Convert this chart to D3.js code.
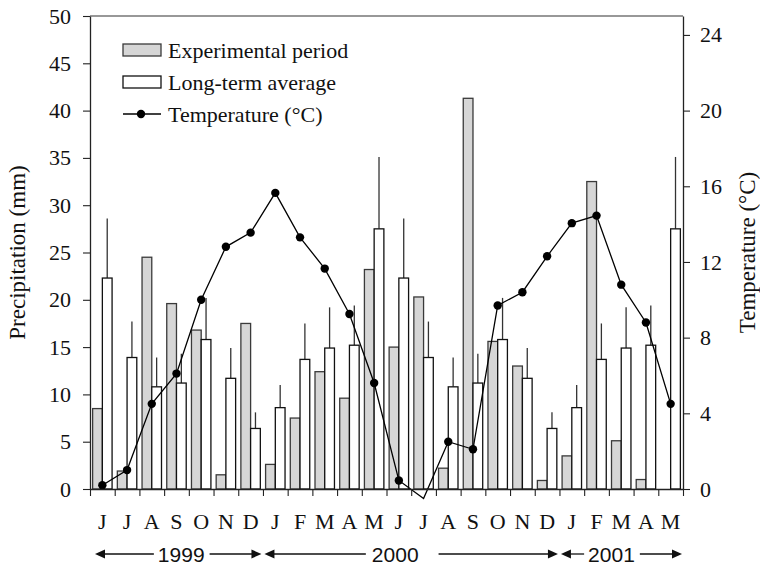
<!DOCTYPE html>
<html>
<head>
<meta charset="utf-8">
<script src="https://cdn.jsdelivr.net/npm/d3@7"></script>
<style>
  html, body { margin: 0; padding: 0; background: #fff; }
  svg { display: block; }
  .serif { font-family: "Liberation Serif", "Times New Roman", Times, "DejaVu Serif", serif; }
  .sans { font-family: "Liberation Sans", Arial, Helvetica, sans-serif; }
</style>
</head>
<body>
<svg id="chart" width="760" height="570"></svg>
<script>
// ---------------- DATA ----------------
const months = ["J","J","A","S","O","N","D","J","F","M","A","M","J","J","A","S","O","N","D","J","F","M","A","M"];
const experimental = [8.5, 1.9, 24.5, 19.6, 16.8, 1.5, 17.5, 2.6, 7.5, 12.4, 9.6, 23.2, 15.0, 20.3, 2.2, 41.3, 15.6, 13.0, 0.9, 3.5, 0, 32.5, 5.1, 1.0];
const longTermAvg = [22.3, 13.9, 10.8, 11.2, 15.8, 11.7, 6.4, 8.6, 13.7, 14.9, 15.2, 27.5, 22.3, 13.9, 10.8, 11.2, 15.8, 11.7, 6.4, 8.6, 13.7, 14.9, 15.2, 27.5];
const longTermErr = [28.6, 17.7, 13.9, 14.3, 20.2, 14.9, 8.1, 11.0, 17.5, 19.2, 19.4, 35.1, 28.6, 17.7, 13.9, 14.3, 20.2, 14.9, 8.1, 11.0, 17.5, 19.2, 19.4, 35.1];
const temperature = [0.2, 1.0, 4.5, 6.1, 10.0, 12.8, 13.55, 15.65, 13.3, 11.65, 9.25, 5.6, 0.45, -0.5, 2.5, 2.1, 9.7, 10.4, 12.3, 14.05, 14.45, 10.8, 8.8, 4.5];
const years = ["1999", "2000", "2001"];
const yearStart = [0, 7, 19];
const yearEnd = [7, 19, 24];
const precipTicks = [0, 5, 10, 15, 20, 25, 30, 35, 40, 45, 50];
const tempTicks = [0, 4, 8, 12, 16, 20, 24];
const legendLabels = ["Experimental period", "Long-term average", "Temperature (\u00B0C)"];

// ---------------- LAYOUT ----------------
const W = 760, H = 570;
const m = { left: 90, right: 77, top: 16, bottom: 81 };
const iw = W - m.left - m.right, ih = H - m.top - m.bottom;
const grayFill = "#d6d6d6";

const svg = d3.select("#chart");
const g = svg.append("g").attr("transform", `translate(${m.left},${m.top})`);

const x = d3.scaleBand().domain(d3.range(months.length)).range([0, iw]).paddingInner(0).paddingOuter(0);
const xSub = d3.scaleBand().domain(["exp", "avg"]).range([0, x.bandwidth()]).paddingInner(0).paddingOuter(0.27);
const xLin = d3.scaleLinear().domain([0, months.length]).range([0, iw]);
const yP = d3.scaleLinear().domain([0, 50]).range([ih, 0]);
const yT = d3.scaleLinear().domain([0, 25]).range([ih, 0]);

// top frame line
g.append("line").attr("x1", 0).attr("x2", iw).attr("y1", 0).attr("y2", 0)
  .attr("stroke", "#333").attr("stroke-width", 1.2);

// error bars
g.append("g").selectAll("line").data(longTermAvg).join("line")
  .attr("x1", (d, i) => x(i) + xSub("avg") + xSub.bandwidth() / 2)
  .attr("x2", (d, i) => x(i) + xSub("avg") + xSub.bandwidth() / 2)
  .attr("y1", d => yP(d))
  .attr("y2", (d, i) => yP(longTermErr[i]))
  .attr("stroke", "#333").attr("stroke-width", 1.3);

// experimental bars
g.append("g").selectAll("rect").data(experimental).join("rect")
  .filter(d => d > 0)
  .attr("x", (d, i) => x(i) + xSub("exp"))
  .attr("y", d => yP(d))
  .attr("width", xSub.bandwidth())
  .attr("height", d => yP(0) - yP(d))
  .attr("fill", grayFill).attr("stroke", "#3a3a3a").attr("stroke-width", 1.3);

// long-term average bars
g.append("g").selectAll("rect").data(longTermAvg).join("rect")
  .attr("x", (d, i) => x(i) + xSub("avg"))
  .attr("y", d => yP(d))
  .attr("width", xSub.bandwidth())
  .attr("height", d => yP(0) - yP(d))
  .attr("fill", "#fff").attr("stroke", "#111").attr("stroke-width", 1.3);

// temperature line
const line = d3.line().x((d, i) => x(i) + x.bandwidth() / 2).y(d => yT(d));
g.append("path").datum(temperature).attr("d", line)
  .attr("fill", "none").attr("stroke", "#000").attr("stroke-width", 1.3);
g.append("g").selectAll("circle").data(temperature.map((v, i) => ({ v, i })).filter(d => d.v >= 0)).join("circle")
  .attr("cx", d => x(d.i) + x.bandwidth() / 2)
  .attr("cy", d => yT(d.v))
  .attr("r", 4.2).attr("fill", "#000");

// axes
function styleAxis(sel) {
  sel.attr("font-family", null).attr("font-size", null);
  sel.select(".domain").attr("stroke", "#222").attr("stroke-width", 1.3);
  sel.selectAll(".tick line").attr("stroke", "#222").attr("stroke-width", 1.1);
  sel.selectAll("text").attr("class", "serif").style("font-size", "22px").attr("fill", "#111");
}
g.append("g").call(d3.axisLeft(yP).tickValues(precipTicks).tickSize(7).tickPadding(12).tickSizeOuter(0)).call(styleAxis);
g.append("g").attr("transform", `translate(${iw},0)`)
  .call(d3.axisRight(yT).tickValues(tempTicks).tickSize(7).tickPadding(10).tickSizeOuter(0)).call(styleAxis);
g.append("g").attr("transform", `translate(0,${ih})`)
  .call(d3.axisBottom(xLin).tickValues(d3.range(months.length + 1)).tickSize(7).tickFormat("").tickSizeOuter(0)).call(styleAxis);
const mAx = g.append("g").attr("transform", `translate(0,${ih})`)
  .call(d3.axisBottom(x).tickSize(0).tickFormat(i => months[i]));
mAx.attr("font-family", null).attr("font-size", null);
mAx.select(".domain").remove();
mAx.selectAll("text").attr("class", "serif").style("font-size", "22px").attr("fill", "#111")
  .attr("y", 40).attr("dy", 0);

// axis titles
svg.append("text").attr("class", "serif").attr("transform", `translate(25,${m.top + ih / 2}) rotate(-90)`)
  .attr("text-anchor", "middle").style("font-size", "23px").attr("fill", "#111")
  .text("Precipitation (mm)");
svg.append("text").attr("class", "serif").attr("transform", `translate(755,${m.top + ih / 2}) rotate(-90)`)
  .attr("text-anchor", "middle").style("font-size", "23px").attr("fill", "#111")
  .text("Temperature (\u00B0C)");

// year arrows
const yrY = ih + 65;
const yrShift = [3, -16, -10];
const yrG = g.append("g");
years.forEach((yr, k) => {
  const x0 = xLin(yearStart[k]) + (k === 0 ? 5 : 1.5);
  const x1 = xLin(yearEnd[k]) - (k === years.length - 1 ? 1 : 1.5);
  const cx = (x0 + x1) / 2 + yrShift[k];
  const t = yrG.append("text").attr("class", "sans").attr("x", cx).attr("y", yrY + 8).attr("text-anchor", "middle")
    .style("font-size", "21px").attr("fill", "#111").text(yr);
  const bb = t.node().getBBox();
  const gapL = k === 1 ? 6 : 4, gapR = k === 1 ? 20 : 5;
  yrG.append("line").attr("x1", x0 + 8).attr("x2", bb.x - gapL).attr("y1", yrY).attr("y2", yrY)
    .attr("stroke", "#111").attr("stroke-width", 1.3);
  yrG.append("line").attr("x1", bb.x + bb.width + gapR).attr("x2", x1 - 8).attr("y1", yrY).attr("y2", yrY)
    .attr("stroke", "#111").attr("stroke-width", 1.3);
  yrG.append("path").attr("d", `M${x0},${yrY}L${x0 + 10},${yrY - 4.5}L${x0 + 10},${yrY + 4.5}Z`).attr("fill", "#111");
  yrG.append("path").attr("d", `M${x1},${yrY}L${x1 - 10},${yrY - 4.5}L${x1 - 10},${yrY + 4.5}Z`).attr("fill", "#111");
});

// legend
const lg = svg.append("g").attr("transform", "translate(123,44)");
const rowH = 32;
lg.append("rect").attr("x", 0).attr("y", 0).attr("width", 38).attr("height", 12)
  .attr("fill", grayFill).attr("stroke", "#3a3a3a").attr("stroke-width", 1.3);
lg.append("rect").attr("x", 0).attr("y", rowH).attr("width", 38).attr("height", 12)
  .attr("fill", "#fff").attr("stroke", "#111").attr("stroke-width", 1.3);
lg.append("line").attr("x1", 0).attr("x2", 38).attr("y1", 2 * rowH + 6).attr("y2", 2 * rowH + 6)
  .attr("stroke", "#000").attr("stroke-width", 1.3);
lg.append("circle").attr("cx", 18).attr("cy", 2 * rowH + 6).attr("r", 4.2).attr("fill", "#000");
lg.selectAll("text.leg").data(legendLabels).join("text")
  .attr("class", "serif")
  .attr("x", 45).attr("y", (d, i) => i * rowH + 6).attr("dy", "0.35em")
  .style("font-size", "22px").attr("fill", "#111")
  .text(d => d);
</script>
</body>
</html>
